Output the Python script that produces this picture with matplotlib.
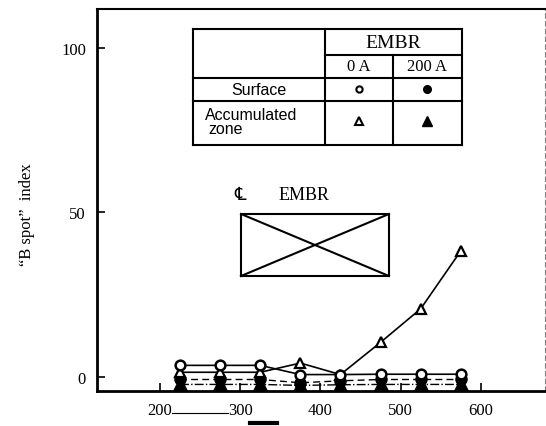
import matplotlib.pyplot as plt
from matplotlib.lines import Line2D

# casting speed data
speed = [225, 275, 325, 375, 425, 475, 525, 575]
surface_0A = [3.5, 3.5, 3.5, 0.7, 0.7, 0.8, 0.8, 0.8]
accum_0A = [1.4, 1.4, 1.4, 4.2, 0.7, 10.5, 20.7, 38.3]
surface_200A = [-0.8, -0.8, -0.8, -1.8, -1.2, -0.8, -0.8, -0.8]
accum_200A = [-2.3, -2.3, -2.3, -2.6, -2.4, -2.3, -2.3, -2.3]

xticks = [200, 300, 400, 500, 600]
yticks = [0, 50, 100]

serif = 'Liberation Serif'
sans = 'Liberation Sans'

fig = plt.figure(figsize=(5.46, 4.27), dpi=100)
ax = fig.add_axes([97 / 546, 1 - 392 / 427, 448 / 546, 382 / 427])

# series
ax.plot(speed, accum_200A, color='k', lw=1.0, ls='-.', marker='^', ms=10,
        mfc='k', mec='k', zorder=3)
ax.plot(speed, surface_200A, color='k', lw=1.0, ls=(0, (5, 3)), marker='o', ms=8,
        mfc='k', mec='k', zorder=3)
ax.plot(speed, accum_0A, color='k', lw=1.2, marker='^', ms=7,
        mfc='white', mec='k', mew=1.6, zorder=4)
ax.plot(speed, surface_0A, color='k', lw=1.2, marker='o', ms=7,
        mfc='white', mec='k', mew=1.8, zorder=5)

ax.set_xlim(121.5, 680)
ax.set_ylim(-4.3, 111.9)
ax.set_xticks(xticks)
ax.set_yticks(yticks)
ax.tick_params(direction='in', length=6, width=1.2, labelsize=12, pad=8)
for lab in ax.get_xticklabels() + ax.get_yticklabels():
    lab.set_fontfamily(serif)

for s in ['left', 'bottom']:
    ax.spines[s].set_linewidth(2)
ax.spines['top'].set_linewidth(1.5)
ax.spines['right'].set_linewidth(0.8)
ax.spines['right'].set_color('0.5')
ax.spines['right'].set_linestyle((0, (4, 3)))

fig.text(27 / 546, 1 - 215 / 427, '\u201cB spot\u201d  index', rotation=90,
         ha='center', va='center', fontsize=12, fontfamily=serif)

# legend table drawn in axes coordinates
t = ax.transAxes
x0, x1, x2, x3 = 0.2143, 0.5089, 0.6607, 0.8147
y0, y1, y2, y3, y4 = 0.9476, 0.8796, 0.8194, 0.7592, 0.6440
lk = dict(color='k', lw=1.5, transform=t, zorder=6)
for xx in (x0, x1, x3):
    ax.add_line(Line2D([xx, xx], [y0, y4], **lk))
ax.add_line(Line2D([x2, x2], [y1, y4], **lk))
for yy in (y0, y2, y3, y4):
    ax.add_line(Line2D([x0, x3], [yy, yy], **lk))
ax.add_line(Line2D([x1, x3], [y1, y1], **lk))

ax.text((x1 + x3) / 2, (y0 + y1) / 2, 'EMBR', transform=t, ha='center', va='center',
        fontsize=14, fontfamily=serif)
ax.text((x1 + x2) / 2, (y1 + y2) / 2, '0 A', transform=t, ha='center', va='center',
        fontsize=12, fontfamily=serif)
ax.text((x2 + x3) / 2, (y1 + y2) / 2, '200 A', transform=t, ha='center', va='center',
        fontsize=12, fontfamily=serif)
ax.text((x0 + x1) / 2, (y2 + y3) / 2, 'Surface', transform=t, ha='center', va='center',
        fontsize=11.5, fontfamily=sans)
ax.text(0.2411, 0.7251, 'Accumulated', transform=t, ha='left', va='center',
        fontsize=11.5, fontfamily=sans)
ax.text(0.2478, 0.6859, 'zone', transform=t, ha='left', va='center',
        fontsize=11.5, fontfamily=sans)
ax.plot([(x1 + x2) / 2], [(y2 + y3) / 2], 'o', ms=4.5, mfc='white', mec='k', mew=1.5,
        transform=t, zorder=7)
ax.plot([(x2 + x3) / 2], [(y2 + y3) / 2], 'o', ms=5.5, color='k', transform=t, zorder=7)
ax.plot([(x1 + x2) / 2], [0.7068], '^', ms=6, mfc='white', mec='k', mew=1.5,
        transform=t, zorder=7)
ax.plot([(x2 + x3) / 2], [0.7068], '^', ms=7, color='k', transform=t, zorder=7)

# EMBR position sketch
bx0, bx1, by0, by1 = 0.3214, 0.6518, 0.3010, 0.4634
bk = dict(color='k', lw=1.5, transform=t)
ax.add_line(Line2D([bx0, bx1, bx1, bx0, bx0], [by0, by0, by1, by1, by0], **bk))
ax.add_line(Line2D([bx0, bx1], [by0, by1], **bk))
ax.add_line(Line2D([bx0, bx1], [by1, by0], **bk))
ax.text(0.3192, 0.5157, '\u2104', transform=t, ha='center', va='center',
        fontsize=13, family=['DejaVu Sans', 'Noto Sans CJK SC'])
ax.text(0.4621, 0.5157, 'EMBR', transform=t, ha='center', va='center',
        fontsize=13, fontfamily=serif)

# scan marks under the x axis
fig.add_artist(Line2D([172 / 546, 228 / 546], [1 - 414 / 427, 1 - 414 / 427],
                      color='k', lw=0.8))
fig.add_artist(Line2D([250 / 546, 277 / 546], [1 - 424 / 427, 1 - 424 / 427],
                      color='k', lw=3))

fig.savefig('out.png', dpi=100)
